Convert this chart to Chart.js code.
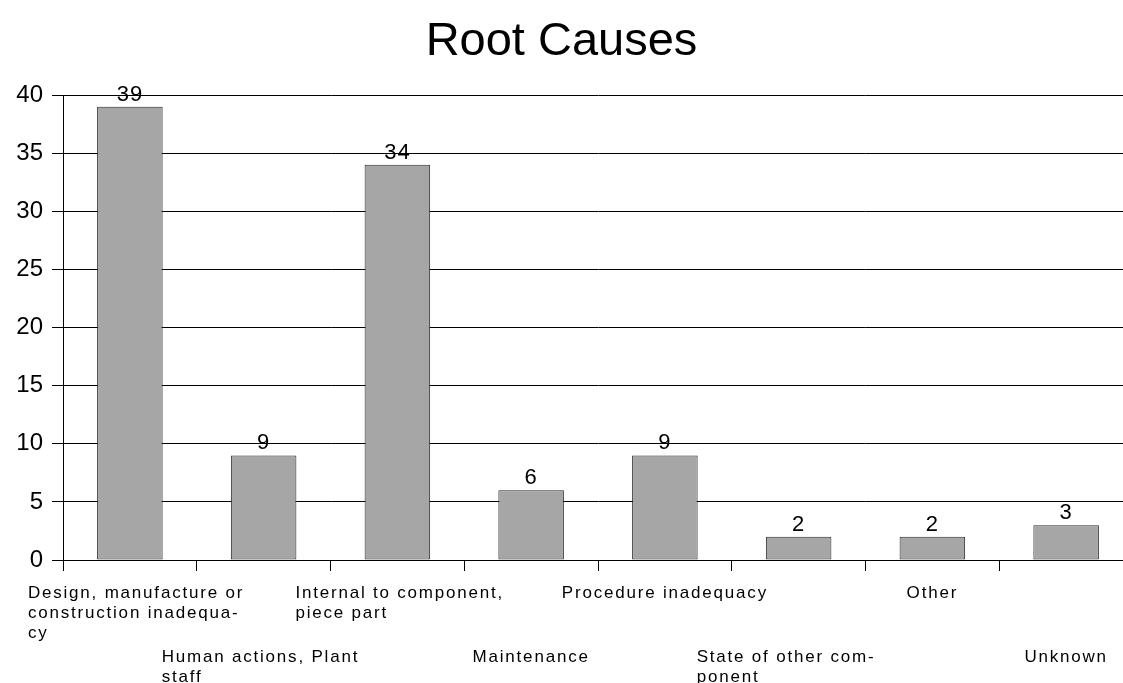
<!DOCTYPE html>
<html>
<head>
<meta charset="utf-8">
<title>Root Causes</title>
<script src="https://cdn.jsdelivr.net/npm/chart.js@4.4.1/dist/chart.umd.min.js"></script>
<style>
    html, body { margin: 0; padding: 0; background: #fff; overflow: hidden; }
    /* the plot runs a little past the right edge of the window, as in the original */
    #wrap { width: 1140px; height: 683px; }
</style>
</head>
<body>
<div id="wrap"><canvas id="rootChart"></canvas></div>
<script>
// ---- Chart data ----
var categories = [
    ['Design, manufacture or', 'construction inadequa-', 'cy'],
    ['Human actions, Plant', 'staff'],
    ['Internal to component,', 'piece part'],
    ['Maintenance'],
    ['Procedure inadequacy'],
    ['State of other com-', 'ponent'],
    ['Other'],
    ['Unknown']
];
var counts = [39, 9, 34, 6, 9, 2, 2, 3];
var yMin = 0;
var yMax = 40;
var yStep = 5;
var chartTitle = 'Root Causes';

var FONT = "'Liberation Sans', Arial, sans-serif";
var VIEW_W = 1123; // visible window width, title is centred on it

// Title, staggered category labels (Excel style) and value labels on the bars
var labelPlugin = {
    id: 'excelLabels',
    afterDraw: function (chart) {
        var ctx = chart.ctx;
        var xScale = chart.scales.x;
        var meta = chart.getDatasetMeta(0);

        ctx.save();
        ctx.fillStyle = '#000';

        // title
        ctx.font = '47px ' + FONT;
        ctx.textAlign = 'center';
        ctx.textBaseline = 'alphabetic';
        ctx.fillText(chartTitle, VIEW_W / 2, 55);

        // value labels
        ctx.font = '22px ' + FONT;
        ctx.letterSpacing = '1px';
        meta.data.forEach(function (bar, i) {
            ctx.fillText(String(counts[i]), bar.x, bar.y - 6);
        });

        // category labels, odd ones on a second row
        ctx.font = '17px ' + FONT;
        ctx.letterSpacing = '1.8px';
        var rowBase = [xScale.bottom + 27, xScale.bottom + 91];
        var lineH = 20;
        categories.forEach(function (lines, i) {
            var cx = xScale.getPixelForValue(i);
            var base = rowBase[i % 2];
            if (lines.length === 1) {
                ctx.textAlign = 'center';
                ctx.fillText(lines[0], cx, base);
            } else {
                ctx.textAlign = 'left';
                lines.forEach(function (ln, j) {
                    ctx.fillText(ln, cx - 102, base + j * lineH);
                });
            }
        });
        ctx.restore();
    }
};

var ctx = document.getElementById('rootChart');
new Chart(ctx, {
    type: 'bar',
    data: {
        labels: categories,
        datasets: [{
            data: counts,
            backgroundColor: '#a6a6a6',
            borderColor: '#2a2a2a',
            borderWidth: 1,
            borderSkipped: false,
            categoryPercentage: 1.0,
            barPercentage: 0.49
        }]
    },
    options: {
        responsive: true,
        maintainAspectRatio: false,
        animation: false,
        devicePixelRatio: 1,
        layout: { padding: { left: 0, right: 7, top: 95, bottom: 112 } },
        plugins: {
            legend: { display: false },
            tooltip: { enabled: false },
            title: { display: false }
        },
        scales: {
            x: {
                offset: true,
                grid: {
                    offset: true,
                    drawOnChartArea: false,
                    drawTicks: true,
                    tickLength: 11,
                    color: '#000'
                },
                border: { display: true, color: '#000', width: 1 },
                ticks: { display: false }
            },
            y: {
                min: yMin,
                max: yMax,
                afterFit: function (axis) { axis.width = 63; },
                grid: { color: '#000', tickLength: 11, lineWidth: 1 },
                border: { display: true, color: '#000', width: 1 },
                ticks: {
                    stepSize: yStep,
                    padding: 9,
                    color: '#000',
                    font: { family: FONT, size: 24 }
                }
            }
        }
    },
    plugins: [labelPlugin]
});
</script>
</body>
</html>
